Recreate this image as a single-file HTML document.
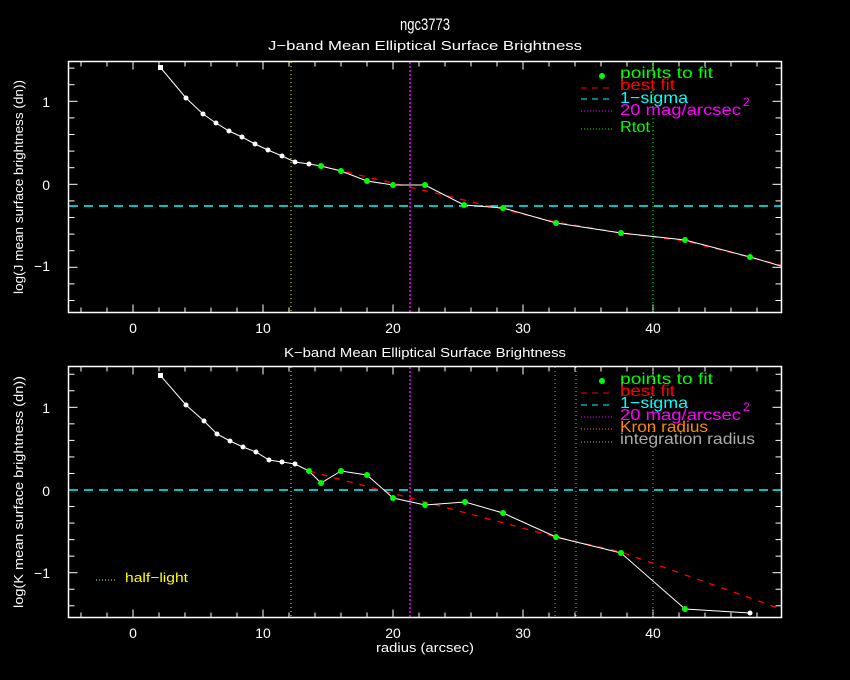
<!DOCTYPE html>
<html><head><meta charset="utf-8"><style>
html,body{margin:0;padding:0;background:#000;}
svg{display:block;font-family:"Liberation Sans",sans-serif;}
</style></head><body>
<svg id="s" width="850" height="680" viewBox="0 0 850 680" xmlns="http://www.w3.org/2000/svg">
<rect width="850" height="680" fill="#000"/>
<text x="425" y="30" fill="#fff" font-size="17" text-anchor="middle" textLength="50" lengthAdjust="spacingAndGlyphs">ngc3773</text>
<text x="425" y="50" fill="#fff" font-size="13" text-anchor="middle" textLength="314" lengthAdjust="spacingAndGlyphs">J−band Mean Elliptical Surface Brightness</text>
<text x="425" y="357" fill="#fff" font-size="13" text-anchor="middle" textLength="282" lengthAdjust="spacingAndGlyphs">K−band Mean Elliptical Surface Brightness</text>
<text x="425" y="652" fill="#fff" font-size="13" text-anchor="middle" textLength="98" lengthAdjust="spacingAndGlyphs">radius (arcsec)</text>
<text transform="translate(23,187) rotate(-90)" fill="#fff" font-size="13" text-anchor="middle" textLength="214" lengthAdjust="spacingAndGlyphs">log(J mean surface brightness (dn))</text>
<text transform="translate(23,492) rotate(-90)" fill="#fff" font-size="13" text-anchor="middle" textLength="232" lengthAdjust="spacingAndGlyphs">log(K mean surface brightness (dn))</text>
<g id="ticks" stroke="#fff" stroke-width="1"></g>
<g fill="#fff" font-size="14" text-anchor="middle">
<text x="133" y="333">0</text><text x="263" y="333">10</text><text x="393" y="333">20</text><text x="523" y="333">30</text><text x="653" y="333">40</text>
<text x="133" y="638">0</text><text x="263" y="638">10</text><text x="393" y="638">20</text><text x="523" y="638">30</text><text x="653" y="638">40</text>
</g>
<g fill="#fff" font-size="14" text-anchor="end">
<text x="50" y="107">1</text><text x="50" y="190">0</text><text x="50" y="271">−1</text>
<text x="50" y="413">1</text><text x="50" y="496">0</text><text x="50" y="578">−1</text>
</g>
<!-- top plot -->
<line x1="291" y1="62" x2="291" y2="312" stroke="#ff0" stroke-dasharray="1,3"/>
<line x1="410" y1="62" x2="410" y2="312" stroke="#f0f" stroke-dasharray="2,2" stroke-width="1.5"/>
<line x1="653" y1="62" x2="653" y2="312" stroke="#0f0" stroke-dasharray="1,3"/>
<line x1="69" y1="206" x2="781" y2="206" stroke="#0ff" stroke-width="1.5" stroke-dasharray="9,6"/>
<polyline points="321,166 393,183 556,222 621,233 685,241 781,265" fill="none" stroke="#f00" stroke-width="1.3" stroke-dasharray="6,7"/>
<polyline points="160,67 186,98 203,114 216,123 229,131 242,137 255,144 268,150 282,156 295,162 309,164 321,166 341,171 367,181 393,185 425,185 464,205 503,208 556,223 621,233 685,240 750,257 781,266" fill="none" stroke="#fff" stroke-width="1"/>
<g fill="#fff"><rect x="158" y="65" width="5" height="5"/>
<circle cx="186" cy="98" r="2.5"/><circle cx="203" cy="114" r="2.5"/><circle cx="216" cy="123" r="2.5"/><circle cx="229" cy="131" r="2.5"/><circle cx="242" cy="137" r="2.5"/><circle cx="255" cy="144" r="2.5"/><circle cx="268" cy="150" r="2.5"/><circle cx="282" cy="156" r="2.5"/><circle cx="295" cy="162" r="2.5"/><circle cx="309" cy="164" r="2.5"/></g>
<g fill="#0f0"><circle cx="321" cy="166" r="3"/><circle cx="341" cy="171" r="3"/><circle cx="367" cy="181" r="3"/><circle cx="393" cy="185" r="3"/><circle cx="425" cy="185" r="3"/><circle cx="464" cy="205" r="3"/><circle cx="503" cy="208" r="3"/><circle cx="556" cy="223" r="3"/><circle cx="621" cy="233" r="3"/><circle cx="685" cy="240" r="3"/><circle cx="750" cy="257" r="3"/></g>
<!-- top legend -->
<circle cx="602" cy="76" r="3" fill="#0f0"/>
<line x1="581" y1="88" x2="612" y2="88" stroke="#f00" stroke-dasharray="6,5"/>
<line x1="581" y1="99" x2="612" y2="99" stroke="#0ff" stroke-dasharray="6,5"/>
<line x1="581" y1="111" x2="612" y2="111" stroke="#f0f" stroke-dasharray="1,2"/>
<line x1="581" y1="129" x2="612" y2="129" stroke="#0f0" stroke-dasharray="1,2"/>
<g font-size="16" lengthAdjust="spacingAndGlyphs">
<text x="620" y="78" fill="#0f0" textLength="93" lengthAdjust="spacingAndGlyphs">points to fit</text>
<text x="620" y="90" fill="#f00" textLength="55" lengthAdjust="spacingAndGlyphs">best fit</text>
<text x="620" y="103" fill="#0ff" textLength="68" lengthAdjust="spacingAndGlyphs">1−sigma</text>
<text x="620" y="115" fill="#f0f" textLength="121" lengthAdjust="spacingAndGlyphs">20 mag/arcsec</text><text x="743" y="106" fill="#f0f" font-size="12">2</text>
<text x="620" y="132" fill="#0f0" textLength="30" lengthAdjust="spacingAndGlyphs">Rtot</text>
</g>
<!-- bottom plot -->
<line x1="291" y1="367" x2="291" y2="617" stroke="#ff0" stroke-dasharray="1,3"/>
<line x1="410" y1="367" x2="410" y2="617" stroke="#f0f" stroke-dasharray="2,2" stroke-width="1.5"/>
<line x1="555" y1="367" x2="555" y2="617" stroke="#f80" stroke-dasharray="1,3"/>
<line x1="576" y1="367" x2="576" y2="617" stroke="#aaa" stroke-dasharray="1,3"/>
<line x1="653" y1="367" x2="653" y2="617" stroke="#0f0" stroke-dasharray="1,3"/>
<line x1="69" y1="490" x2="781" y2="490" stroke="#0ff" stroke-width="1.5" stroke-dasharray="9,6"/>
<polyline points="309,471 556,537 621,552 781,609" fill="none" stroke="#f00" stroke-width="1.3" stroke-dasharray="6,7"/>
<polyline points="160,375 186,405 204,421 217,434 230,441 243,447 256,452 269,460 282,462 295,464 309,471 321,483 341,471 367,475 393,498 425,505 465,502 503,513 556,537 621,553 685,609 750,613" fill="none" stroke="#fff" stroke-width="1"/>
<g fill="#fff"><rect x="158" y="373" width="5" height="5"/>
<circle cx="186" cy="405" r="2.5"/><circle cx="204" cy="421" r="2.5"/><circle cx="217" cy="434" r="2.5"/><circle cx="230" cy="441" r="2.5"/><circle cx="243" cy="447" r="2.5"/><circle cx="256" cy="452" r="2.5"/><circle cx="269" cy="460" r="2.5"/><circle cx="282" cy="462" r="2.5"/><circle cx="295" cy="464" r="2.5"/><circle cx="750" cy="613" r="2.5"/></g>
<g fill="#0f0"><circle cx="309" cy="471" r="3"/><circle cx="321" cy="483" r="3"/><circle cx="341" cy="471" r="3"/><circle cx="367" cy="475" r="3"/><circle cx="393" cy="498" r="3"/><circle cx="425" cy="505" r="3"/><circle cx="465" cy="502" r="3"/><circle cx="503" cy="513" r="3"/><circle cx="556" cy="537" r="3"/><circle cx="621" cy="553" r="3"/><circle cx="685" cy="609" r="3"/></g>
<!-- bottom legend -->
<circle cx="602" cy="381" r="3" fill="#0f0"/>
<line x1="581" y1="393" x2="612" y2="393" stroke="#f00" stroke-dasharray="6,5"/>
<line x1="581" y1="405" x2="612" y2="405" stroke="#0ff" stroke-dasharray="6,5"/>
<line x1="581" y1="417" x2="612" y2="417" stroke="#f0f" stroke-dasharray="1,2"/>
<line x1="581" y1="429" x2="612" y2="429" stroke="#f80" stroke-dasharray="1,2"/>
<line x1="581" y1="442" x2="612" y2="442" stroke="#aaa" stroke-dasharray="1,2"/>
<g font-size="16">
<text x="620" y="384" fill="#0f0" textLength="93" lengthAdjust="spacingAndGlyphs">points to fit</text>
<text x="620" y="396" fill="#f00" textLength="55" lengthAdjust="spacingAndGlyphs">best fit</text>
<text x="620" y="408" fill="#0ff" textLength="68" lengthAdjust="spacingAndGlyphs">1−sigma</text>
<text x="620" y="420" fill="#f0f" textLength="121" lengthAdjust="spacingAndGlyphs">20 mag/arcsec</text><text x="743" y="411" fill="#f0f" font-size="12">2</text>
<text x="620" y="432" fill="#f80" textLength="88" lengthAdjust="spacingAndGlyphs">Kron radius</text>
<text x="620" y="444" fill="#aaa" textLength="135" lengthAdjust="spacingAndGlyphs">integration radius</text>
</g>
<line x1="96" y1="580" x2="117" y2="580" stroke="#ff0" stroke-dasharray="1,2"/>
<text x="125" y="582" fill="#ff0" font-size="13" textLength="63" lengthAdjust="spacingAndGlyphs">half−light</text>
<g fill="none" stroke="#fff" stroke-width="1.5">
<rect x="68.5" y="61.5" width="713" height="251"/>
<rect x="68.5" y="366.5" width="713" height="251"/>
</g>
</svg>
<script>
var g=document.getElementById('ticks'),ns='http://www.w3.org/2000/svg';
function L(a,b,c,d){var l=document.createElementNS(ns,'line');l.setAttribute('x1',a);l.setAttribute('y1',b);l.setAttribute('x2',c);l.setAttribute('y2',d);g.appendChild(l);}
[[61.5,312.5,184.3,83],[366.5,617.5,490,82.7]].forEach(function(p){
 for(var v=-4;v<=48;v+=2){var x=133+13*v,m=(v%10==0)?8:5;L(x,p[1],x,p[1]-m);L(x,p[0],x,p[0]+m);}
 for(var i=-7;i<=7;i++){var y=p[2]-p[3]*i*0.2,m=(i%5==0)?9:6;L(68.5,y,68.5+m,y);L(781.5,y,781.5-m,y);}
});
</script>
</body></html>
